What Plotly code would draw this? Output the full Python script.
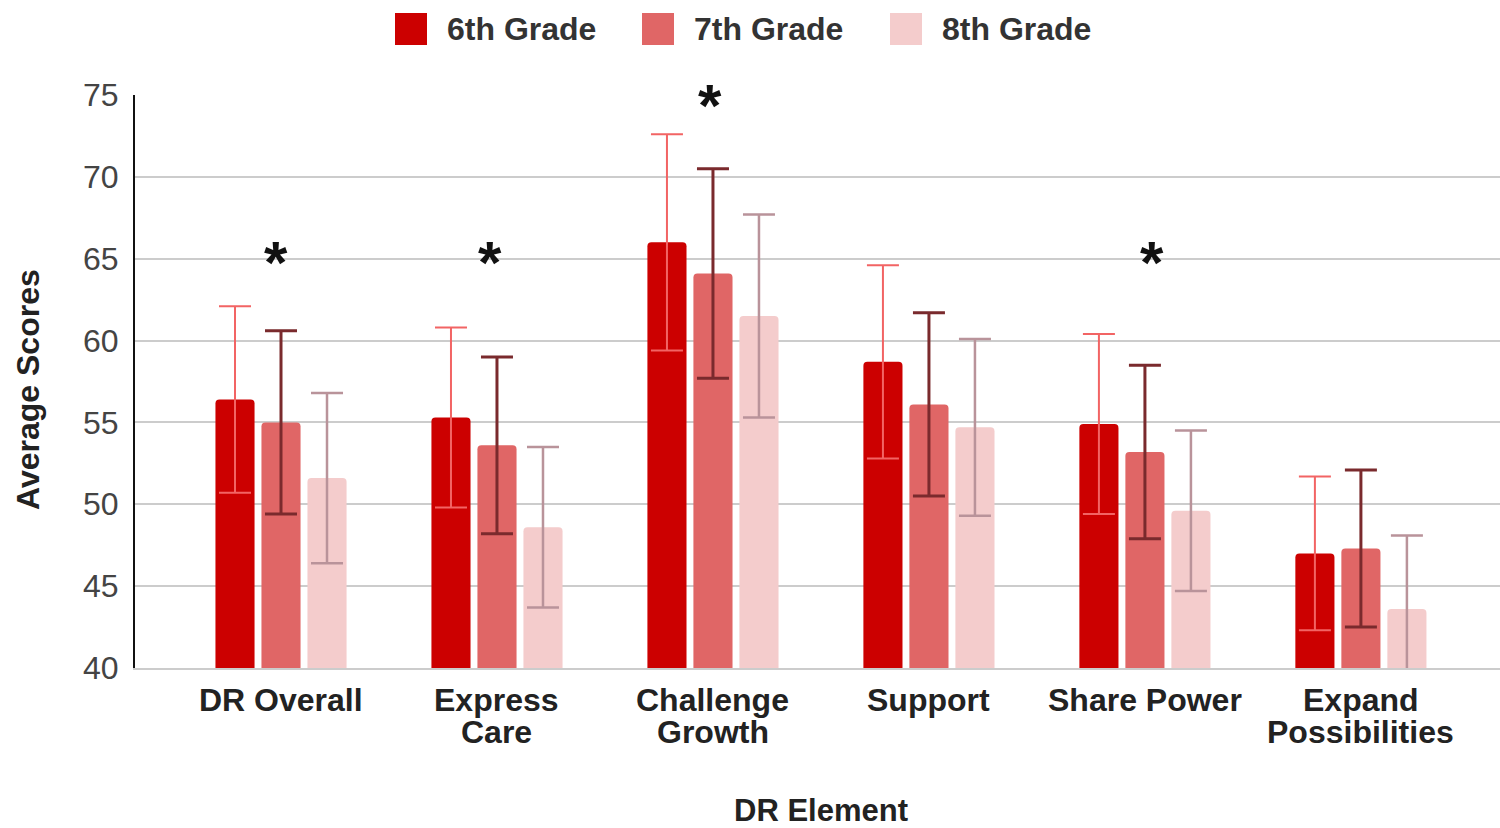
import plotly.graph_objects as go

# --- data -------------------------------------------------------------
categories = ["DR Overall", "Express Care", "Challenge Growth", "Support",
              "Share Power", "Expand Possibilities"]
category_lines = [["DR Overall"], ["Express", "Care"], ["Challenge", "Growth"],
                  ["Support"], ["Share Power"], ["Expand", "Possibilities"]]

grades = ["6th Grade", "7th Grade", "8th Grade"]
grade6 = [56.4, 55.3, 66.0, 58.7, 54.9, 47.0]
grade7 = [55.0, 53.6, 64.1, 56.1, 53.2, 47.3]
grade8 = [51.6, 48.6, 61.5, 54.7, 49.6, 43.6]
err6 = [5.7, 5.5, 6.6, 5.9, 5.5, 4.7]
err7 = [5.6, 5.4, 6.4, 5.6, 5.3, 4.8]
err8 = [5.2, 4.9, 6.2, 5.4, 4.9, 4.5]

significance = ["*", "*", "*", "", "*", ""]
sig_y = [65.3, 65.3, 74.9, None, 65.3, None]

y_ticks = [40, 45, 50, 55, 60, 65, 70, 75]

# --- styling ----------------------------------------------------------
bar_colors = ["#cc0000", "#e06666", "#f4cccc"]
err_colors = ["#f26464", "#7a2a2d", "#b9939a"]
err_thick = [2, 3, 2.5]
sig_xshift = [-5, -7, -3, 0, 7, 0]
FONT = "Arial, Liberation Sans, sans-serif"

W, H = 1500, 828
ML, MR, MT, MB = 135, 0, 95, 160
PW, PH = W - ML - MR, H - MT - MB


def px_x(px):
    return (px - ML) / PW


def px_y(py):
    return (H - MB - py) / PH


fig = go.Figure()
for name, vals, errs, col, ecol, eth in zip(
        grades, [grade6, grade7, grade8], [err6, err7, err8],
        bar_colors, err_colors, err_thick):
    fig.add_trace(go.Bar(
        name=name, x=categories, y=vals,
        marker=dict(color=col, cornerradius=4, line=dict(width=0)),
        error_y=dict(type="data", array=errs, visible=True,
                     color=ecol, thickness=eth, width=16),
        showlegend=False,
    ))

annotations = []
# category labels, one line each for tight spacing
for cat, lines in zip(categories, category_lines):
    for i, line in enumerate(lines):
        annotations.append(dict(
            x=cat, xref="x", y=px_y(700 + 32 * i), yref="paper",
            text=f"<b>{line}</b>", showarrow=False, yanchor="middle",
            font=dict(family=FONT, size=32, color="#222222")))

# significance markers
for cat, s, yv, xs in zip(categories, significance, sig_y, sig_xshift):
    if s:
        annotations.append(dict(
            x=cat, xref="x", y=yv, yref="y", text=f"<b>{s}</b>",
            showarrow=False, yanchor="middle", xshift=xs, yshift=-9,
            font=dict(family=FONT, size=60, color="#111111")))

# axis titles
annotations.append(dict(
    x=px_x(821), xref="paper", y=px_y(810), yref="paper",
    text="<b>DR Element</b>", showarrow=False, yanchor="middle",
    font=dict(family=FONT, size=31, color="#222222")))
annotations.append(dict(
    x=px_x(28), xref="paper", y=px_y(390), yref="paper",
    text="<b>Average Scores</b>", showarrow=False, textangle=-90,
    xanchor="center", yanchor="middle",
    font=dict(family=FONT, size=32, color="#222222")))

# legend: large rounded swatches with labels
shapes = []
legend_sw_x = [395, 642, 890]
for name, col, sx in zip(grades, bar_colors, legend_sw_x):
    shapes.append(dict(
        type="rect", xref="paper", yref="paper",
        x0=px_x(sx), x1=px_x(sx + 32), y0=px_y(45), y1=px_y(13),
        fillcolor=col, line=dict(width=0)))
    annotations.append(dict(
        x=px_x(sx + 50), xref="paper", y=px_y(29), yref="paper",
        text=f"<b>{name}</b>", showarrow=False, xanchor="left",
        yanchor="middle", font=dict(family=FONT, size=32, color="#333333")))

fig.update_layout(
    width=W, height=H,
    margin=dict(l=ML, r=MR, t=MT, b=MB, pad=0),
    paper_bgcolor="white", plot_bgcolor="white",
    barmode="group", bargap=0.361, bargroupgap=0.15,
    showlegend=False,
    annotations=annotations, shapes=shapes,
    xaxis=dict(range=[-0.676, 5.644], showticklabels=False, ticks="",
               showgrid=False, showline=True, linecolor="#cccccc",
               linewidth=2, zeroline=False),
    yaxis=dict(range=[40, 75], tickvals=y_ticks, showgrid=True,
               gridcolor="#cccccc", gridwidth=1.5, showline=True,
               linecolor="#111111", linewidth=2, zeroline=False,
               ticks="", ticklabelstandoff=8,
               tickfont=dict(family=FONT, size=32, color="#444444")),
)

fig.write_html("out.html")
